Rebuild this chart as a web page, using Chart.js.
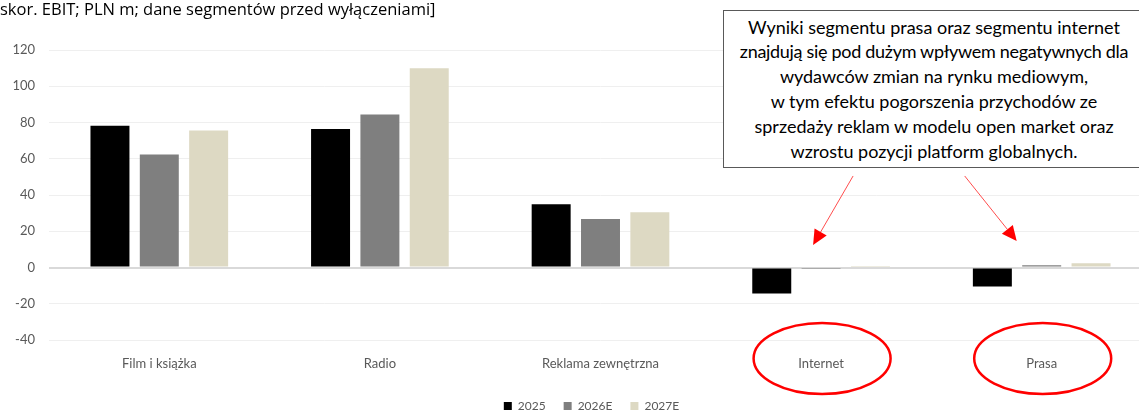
<!DOCTYPE html>
<html><head><meta charset="utf-8">
<script src="https://cdn.jsdelivr.net/npm/chart.js@4.4.1/dist/chart.umd.min.js"></script>
<style>
html,body{margin:0;padding:0;overflow:hidden;background:#fff;width:1139px;height:412px;}
#wrap{position:absolute;left:0;top:0;width:1183px;height:422px;}
#note{position:absolute;left:723px;top:10px;width:422px;height:158px;border:1.5px solid #595959;background:#fff;box-sizing:border-box;display:flex;flex-direction:column;justify-content:center;align-items:center;text-align:center;font-family:Lato,sans-serif;font-size:18px;line-height:24.8px;color:#000;}
</style></head>
<body>
<div id="wrap"><canvas id="c" width="1183" height="422"></canvas></div>
<div id="note"><div>Wyniki segmentu prasa oraz segmentu internet</div><div style="letter-spacing:-0.3px">znajdują się pod dużym wpływem negatywnych dla</div><div>wydawców zmian na rynku mediowym,</div><div>w tym efektu pogorszenia przychodów ze</div><div>sprzedaży reklam w modelu open market oraz</div><div>wzrostu pozycji platform globalnych.</div></div>
<script>
const titleText = 'skor. EBIT; PLN m; dane segmentów przed wyłączeniami]';
const categories = ['Film i książka', 'Radio', 'Reklama zewnętrzna', 'Internet', 'Prasa'];
const seriesNames = ['2025', '2026E', '2027E'];
const values2025 = [78.2, 76.4, 34.9, -14.3, -10.5];
const values2026E = [62.3, 84.4, 26.8, -0.8, 1.2];
const values2027E = [75.6, 110.0, 30.5, 0.3, 2.3];
const yMin = -40, yMax = 120, yStep = 20;
const seriesColors = ['#000000', '#7f7f7f', '#ddd9c3'];
const highlighted = [3, 4];

const annot = {
  id: 'annot',
  afterDraw(chart) {
    const {ctx, scales: {x, y}, chartArea} = chart;
    ctx.save();
    ctx.strokeStyle = '#ff0000';
    ctx.lineWidth = 2.5;
    highlighted.forEach(i => {
      const cx = x.getPixelForValue(i) + 1;
      const cy = chartArea.bottom + 18.5;
      ctx.beginPath();
      ctx.ellipse(cx, cy, 68.5, 35.5, 0, 0, Math.PI * 2);
      ctx.stroke();
    });
    const arrow = (x0, y0, x1, y1) => {
      ctx.strokeStyle = '#ff4d4d';
      ctx.lineWidth = 1;
      const ang = Math.atan2(y1 - y0, x1 - x0);
      const L = 15, W = 7;
      const bx = x1 - L * Math.cos(ang), by = y1 - L * Math.sin(ang);
      ctx.beginPath(); ctx.moveTo(x0, y0); ctx.lineTo(bx, by); ctx.stroke();
      ctx.fillStyle = '#ff0000';
      ctx.beginPath();
      ctx.moveTo(x1, y1);
      ctx.lineTo(bx + W * Math.sin(ang), by - W * Math.cos(ang));
      ctx.lineTo(bx - W * Math.sin(ang), by + W * Math.cos(ang));
      ctx.closePath(); ctx.fill();
    };
    const ci = x.getPixelForValue(3), cp = x.getPixelForValue(4);
    arrow(ci + 32, y.getPixelForValue(50.5), ci - 8, y.getPixelForValue(12.4));
    arrow(cp - 77, y.getPixelForValue(50.5), cp - 25, y.getPixelForValue(14.6));
    ctx.restore();
  }
};

new Chart(document.getElementById('c'), {
  type: 'bar',
  data: {
    labels: categories,
    datasets: [
      {label: seriesNames[0], data: values2025, backgroundColor: seriesColors[0]},
      {label: seriesNames[1], data: values2026E, backgroundColor: seriesColors[1]},
      {label: seriesNames[2], data: values2027E, backgroundColor: seriesColors[2]}
    ]
  },
  options: {
    responsive: false,
    animation: false,
    devicePixelRatio: 1,
    layout: {padding: 0},
    datasets: {bar: {categoryPercentage: 0.671, barPercentage: 0.79}},
    plugins: {
      title: {display: true, text: titleText, align: 'start', color: '#000',
        font: {family: 'Open Sans', size: 16.5, weight: 'normal', lineHeight: 1.2}, padding: {top: 0.5, bottom: 29.7}},
      legend: {position: 'bottom', labels: {boxWidth: 8, boxHeight: 8, padding: 18, color: '#595959',
        font: {family: 'Lato', size: 12}}},
      tooltip: {enabled: false}
    },
    scales: {
      x: {
        grid: {display: false}, border: {display: false},
        ticks: {color: '#595959', font: {family: 'Lato', size: 13}, padding: 8, maxRotation: 0, autoSkip: false},
        afterFit(s) { s.height = 42; }
      },
      y: {
        min: yMin, max: yMax,
        border: {display: false},
        grid: {drawTicks: false,
          color: c => c.tick && c.tick.value === 0 ? '#d9d9d9' : '#efefef',
          lineWidth: c => c.tick && c.tick.value === 0 ? 2 : 1},
        ticks: {stepSize: yStep, color: '#595959', font: {family: 'Lato', size: 13}, padding: 14},
        afterFit(s) { s.width = 49; }
      },
      y2: {
        position: 'right', display: true,
        grid: {display: false}, border: {display: false}, ticks: {display: false},
        afterFit(s) { s.width = 31; }
      }
    }
  },
  plugins: [annot]
});
</script>
</body></html>
